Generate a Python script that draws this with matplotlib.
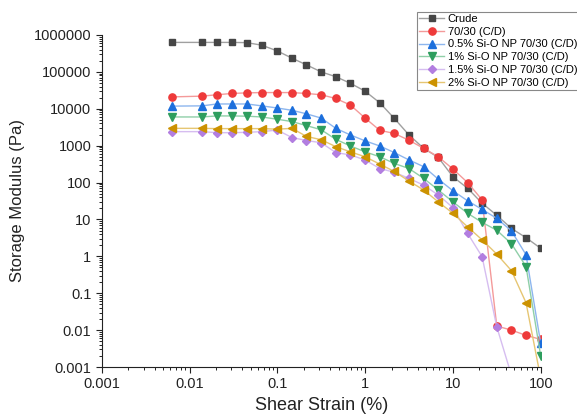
import numpy as np
import matplotlib
matplotlib.use("Agg")
import matplotlib.pyplot as plt

plt.rcParams['font.family'] = ['Liberation Sans', 'DejaVu Sans']

strain = [0.00631, 0.0139, 0.0205, 0.0303, 0.0450, 0.0664, 0.1, 0.147, 0.215, 0.316,
          0.464, 0.681, 1.0, 1.47, 2.15, 3.16, 4.64, 6.81, 10.0, 14.7,
          21.5, 31.6, 46.4, 68.1, 100.0]

crude = [6.3e5, 6.3e5, 6.3e5, 6.3e5, 6.2e5, 5.3e5, 3.7e5, 2.35e5, 1.55e5, 1.0e5,
         7.4e4, 4.9e4, 3.0e4, 1.45e4, 5500, 1950, 850, 480, 144, 70,
         27.5, 13, 5.7, 3.2, 1.65]
s7030 = [2.1e4, 2.2e4, 2.4e4, 2.6e4, 2.7e4, 2.75e4, 2.75e4, 2.75e4, 2.6e4, 2.4e4,
         1.9e4, 1.26e4, 5600, 2600, 2150, 1400, 850, 500, 233, 100,
         34, 0.0129, 0.010, 0.0072, 0.0056]
s05 = [1.18e4, 1.2e4, 1.35e4, 1.35e4, 1.35e4, 1.2e4, 1.05e4, 9100, 7300, 5600,
       2950, 1950, 1350, 980, 650, 410, 270, 124, 60, 32,
       18.7, 10.7, 4.9, 1.1, 0.0044]
s1 = [6000, 6000, 6400, 6400, 6300, 6000, 5200, 4500, 3500, 2700,
      1480, 980, 680, 500, 330, 240, 130, 63, 30, 14.7,
      8.3, 5.1, 2.2, 0.53, 0.002]
s15 = [2400, 2400, 2250, 2250, 2300, 2400, 2650, 1660, 1380, 1200,
       650, 560, 410, 240, 190, 130, 85, 46, 21, 4.2,
       0.98, 0.0123, 0.0006, np.nan, np.nan]
s2 = [2950, 2950, 2900, 2900, 2900, 2900, 2800, 2950, 1780, 1450,
      940, 680, 500, 316, 200, 110, 63, 30, 14.7, 6.3,
      2.8, 1.15, 0.41, 0.055, 0.0005]

labels = ['Crude', '70/30 (C/D)', '0.5% Si-O NP 70/30 (C/D)', '1% Si-O NP 70/30 (C/D)',
          '1.5% Si-O NP 70/30 (C/D)', '2% Si-O NP 70/30 (C/D)']
series = [crude, s7030, s05, s1, s15, s2]
markers = ['s', 'o', '^', 'v', 'D', '<']
mcolors = ['#464646', '#ee3a3a', '#1c6fdc', '#2e9e5e', '#b27ee0', '#cc9200']
lcolors = ['#a0a0a0', '#f49a9a', '#8db6ee', '#8fcfa8', '#d6bdf0', '#e6c673']
msizes = [4.8, 5.2, 5.4, 5.4, 4.4, 5.4]

fig = plt.figure(figsize=(5.77, 4.19), dpi=100)
ax = fig.add_axes([101.7/577, 1-367/419, (540.7-101.7)/577, (367-35)/419])

for y, lab, m, mc, lc, ms in zip(series, labels, markers, mcolors, lcolors, msizes):
    ax.plot(strain, y, color=lc, lw=1.0, marker=m, ms=ms, mfc=mc, mec=mc,
            label=lab, clip_on=True)

ax.set_xscale('log')
ax.set_yscale('log')
ax.set_xlim(0.001, 100)
ax.set_ylim(0.001, 1e6)
ax.spines['top'].set_visible(False)
ax.spines['right'].set_visible(False)
ax.set_xticks([0.001, 0.01, 0.1, 1, 10, 100])
ax.set_xticklabels(['0.001', '0.01', '0.1', '1', '10', '100'])
yt = [0.001, 0.01, 0.1, 1, 10, 100, 1000, 10000, 100000, 1000000]
ax.set_yticks(yt)
ax.set_yticklabels(['0.001', '0.01', '0.1', '1', '10', '100', '1000', '10000', '100000', '1000000'])
ax.yaxis.set_minor_locator(matplotlib.ticker.LogLocator(base=10, subs=np.arange(2, 10), numticks=20))
ax.xaxis.set_minor_locator(matplotlib.ticker.LogLocator(base=10, subs=np.arange(2, 10), numticks=20))
ax.yaxis.set_minor_formatter(matplotlib.ticker.NullFormatter())
ax.xaxis.set_minor_formatter(matplotlib.ticker.NullFormatter())
ax.tick_params(which='major', direction='out', length=4, width=0.8, labelsize=10.5, colors='#222222')
ax.tick_params(which='minor', direction='out', length=2, width=0.6)
for sp in ax.spines.values():
    sp.set_color('#222222')
ax.set_xlabel('Shear Strain (%)', fontsize=13, labelpad=4, color='#222222')
ax.set_ylabel('Storage Modulus (Pa)', fontsize=12, labelpad=6, color='#222222')

leg = fig.legend(loc='upper left', bbox_to_anchor=(416.7/577, 1-11.7/419), fontsize=8,
                 frameon=True, fancybox=False, edgecolor='#888888', framealpha=1,
                 handlelength=2.3, handletextpad=0.3, labelspacing=0.25, borderpad=0.2,
                 borderaxespad=0)
leg.get_frame().set_linewidth(0.8)

fig.savefig('out.png', dpi=100)
